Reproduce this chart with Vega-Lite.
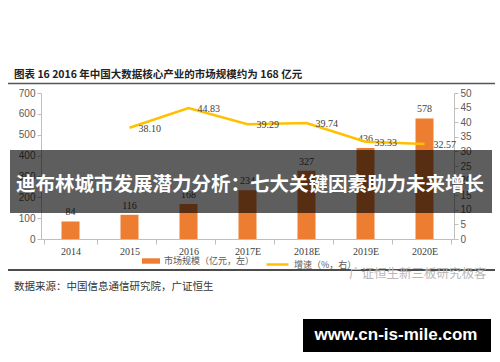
{
  "$schema": "https://vega.github.io/schema/vega-lite/v6.json",
  "width": 413,
  "height": 146,
  "autosize": {"type": "none"},
  "padding": {"left": 41, "top": 93, "right": 46, "bottom": 123},
  "background": "white",
  "config": {"view": {"stroke": null}, "font": "Liberation Sans"},
  "data": {"values": [
    {"year": "2014", "size": 84, "growth": null},
    {"year": "2015", "size": 116, "growth": 38.10},
    {"year": "2016", "size": 168, "growth": 44.83},
    {"year": "2017E", "size": 234, "growth": 39.29},
    {"year": "2018E", "size": 327, "growth": 39.74},
    {"year": "2019E", "size": 436, "growth": 33.33},
    {"year": "2020E", "size": 578, "growth": 32.57}
  ]},
  "encoding": {
    "x": {"field": "year", "type": "nominal", "sort": null, "title": null,
      "axis": {"labelAngle": 0, "labelFont": "Liberation Serif", "labelFontSize": 10, "labelColor": "#404040",
        "domainColor": "#bfbfbf", "tickColor": "#bfbfbf", "tickBand": "extent", "tickSize": 5, "labelPadding": 2}}
  },
  "layer": [
    {
      "encoding": {
        "y": {"field": "size", "type": "quantitative", "title": null,
          "scale": {"domain": [0, 700]},
          "axis": {"orient": "left", "values": [0,100,200,300,400,500,600,700], "grid": false, "labelOverlap": false,
            "labelFontSize": 10, "labelColor": "#595959", "domainColor": "#bfbfbf", "tickColor": "#bfbfbf",
            "tickSize": 4, "labelPadding": 2}}
      },
      "layer": [
        {
          "mark": {"type": "bar", "size": 18},
          "encoding": {
            "color": {"datum": "市场规模（亿元，左）", "type": "nominal",
              "scale": {"range": ["#ED7D31"]},
              "legend": {"orient": "none", "legendX": 101, "legendY": 159, "title": null,
                "symbolType": "M-1,-0.3H1V0.3H-1Z", "symbolSize": 324, "symbolStrokeWidth": 0,
                "labelFont": "Noto Sans CJK SC", "labelFontSize": 9, "labelColor": "#595959", "labelOffset": 4}}
          }
        },
        {
          "mark": {"type": "text", "baseline": "bottom", "dy": -4, "font": "Liberation Serif", "fontSize": 10, "color": "#404040"},
          "encoding": {
            "text": {"field": "size", "type": "quantitative"}
          }
        }
      ]
    },
    {
      "transform": [{"filter": "datum.growth != null"}],
      "encoding": {
        "y": {"field": "growth", "type": "quantitative", "title": null,
          "scale": {"domain": [0, 50]},
          "axis": {"orient": "right", "values": [0,5,10,15,20,25,30,35,40,45,50], "grid": false, "labelOverlap": false,
            "labelFontSize": 10, "labelColor": "#595959", "domainColor": "#bfbfbf", "tickColor": "#bfbfbf",
            "tickSize": 4, "labelPadding": 2}}
      },
      "layer": [
        {
          "mark": {"type": "line", "strokeWidth": 2.5},
          "encoding": {
            "color": {"datum": "增速（%，右）", "type": "nominal",
              "scale": {"range": ["#FFC000"]},
              "legend": {"orient": "none", "legendX": 224, "legendY": 159, "title": null,
                "symbolType": "stroke", "symbolSize": 484, "symbolStrokeWidth": 2.5,
                "labelFont": "Noto Sans CJK SC", "labelFontSize": 9, "labelColor": "#595959", "labelOffset": 4}}
          }
        },
        {
          "mark": {"type": "text", "align": "left", "baseline": "middle", "dx": 9, "dy": 1, "font": "Liberation Serif", "fontSize": 10, "color": "#404040"},
          "encoding": {
            "text": {"field": "growth", "type": "quantitative", "format": ".2f"}
          }
        }
      ]
    },
    {
      "data": {"values": [{"t": "图表 16 2016 年中国大数据核心产业的市场规模约为 168 亿元"}]},
      "mark": {"type": "text", "align": "left", "baseline": "middle", "font": "Noto Sans CJK SC", "fontWeight": "bold", "fontSize": 10.5, "color": "#222222"},
      "encoding": {"x": {"value": -27}, "y": {"value": -18}, "text": {"field": "t"}}
    },
    {
      "data": {"values": [{"k": 1}]},
      "mark": {"type": "rule", "color": "#555555", "strokeWidth": 1.5},
      "encoding": {"x": {"value": -33}, "x2": {"value": 454}, "y": {"value": -9.5}}
    },
    {
      "data": {"values": [{"k": 1}]},
      "mark": {"type": "rule", "color": "#111111", "strokeWidth": 1.5},
      "encoding": {"x": {"value": -33}, "x2": {"value": 454}, "y": {"value": 177}}
    },
    {
      "data": {"values": [{"t": "数据来源：中国信息通信研究院，广证恒生"}]},
      "mark": {"type": "text", "align": "left", "baseline": "middle", "font": "Noto Sans CJK SC", "fontSize": 10.5, "color": "#333333"},
      "encoding": {"x": {"value": -27}, "y": {"value": 194}, "text": {"field": "t"}}
    },
    {
      "data": {"values": [{"t": "广证恒生新三板研究极客"}]},
      "mark": {"type": "text", "align": "left", "baseline": "middle", "font": "Noto Sans CJK SC", "fontSize": 12.5, "color": "#b8b8b8"},
      "encoding": {"x": {"value": 308}, "y": {"value": 181}, "text": {"field": "t"}}
    },
    {
      "data": {"values": [{"k": 1}]},
      "mark": {"type": "rect", "color": "#000000", "opacity": 0.63},
      "encoding": {"x": {"value": -31}, "x2": {"value": 451}, "y": {"value": 57}, "y2": {"value": 120}}
    },
    {
      "data": {"values": [{"t": "迪布林城市发展潜力分析：七大关键因素助力未来增长"}]},
      "mark": {"type": "text", "align": "center", "baseline": "middle", "font": "Noto Sans CJK SC", "fontWeight": "bold", "fontSize": 19.5, "color": "#ffffff"},
      "encoding": {"x": {"value": 209}, "y": {"value": 92}, "text": {"field": "t"}}
    },
    {
      "data": {"values": [{"k": 1}]},
      "mark": {"type": "rect", "color": "#000000"},
      "encoding": {"x": {"value": 262}, "x2": {"value": 450}, "y": {"value": 226}, "y2": {"value": 259}}
    },
    {
      "data": {"values": [{"t": "www.cn-is-mile.com"}]},
      "mark": {"type": "text", "align": "center", "baseline": "middle", "font": "Liberation Sans", "fontWeight": "bold", "fontSize": 17, "color": "#ffffff"},
      "encoding": {"x": {"value": 355}, "y": {"value": 242}, "text": {"field": "t"}}
    }
  ],
  "resolve": {"scale": {"y": "independent", "color": "independent"}}
}
